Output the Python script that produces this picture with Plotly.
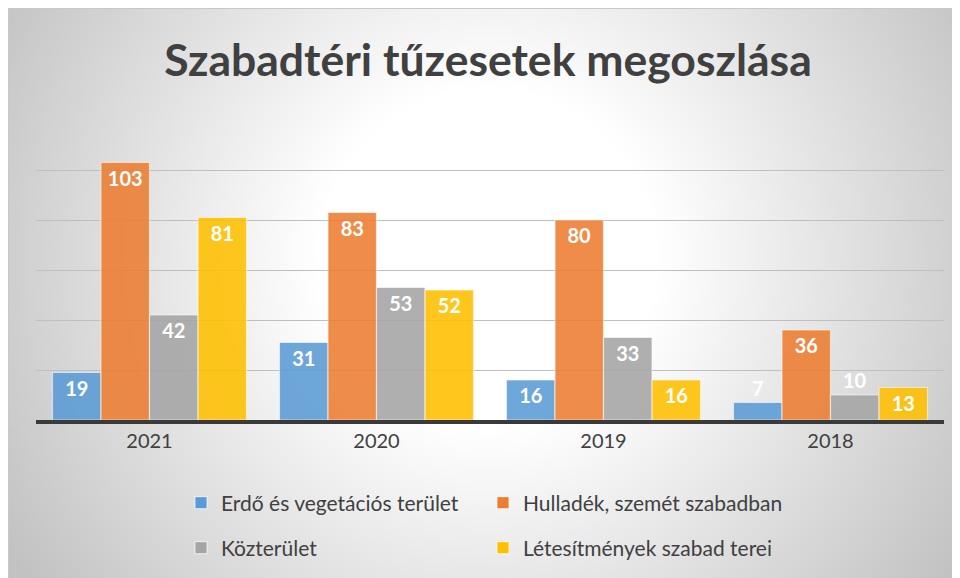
import plotly.graph_objects as go
import urllib.parse

years = ["2021", "2020", "2019", "2018"]
series_names = [
    "Erdő és vegetációs terület",
    "Hulladék, szemét szabadban",
    "Közterület",
    "Létesítmények szabad terei",
]
erdo = [19, 31, 16, 7]
hulladek = [103, 83, 80, 36]
kozterulet = [42, 53, 33, 10]
letesitmenyek = [81, 52, 16, 13]
colors = ["#5B9BD5", "#ED7D31", "#A5A5A5", "#FFC000"]
legend_ids = ["legend", "legend2", "legend3", "legend4"]

title_text = "Szabadtéri tűzesetek megoszlása"

fig = go.Figure()
for name, vals, col, lg in zip(series_names, [erdo, hulladek, kozterulet, letesitmenyek], colors, legend_ids):
    fig.add_trace(go.Bar(
        x=years, y=vals, name=name, legend=lg,
        marker=dict(color=col, opacity=0.88,
                    line=dict(color="rgba(255,255,255,0.6)", width=1.2)),
        text=[str(v) for v in vals],
        textposition="auto",
        insidetextanchor="end",
        constraintext="none",
        textangle=0,
        cliponaxis=False,
        insidetextfont=dict(family="Lato", size=20, color="white", weight="bold"),
        outsidetextfont=dict(family="Lato", size=20, color="white", weight="bold"),
        hoverinfo="skip",
    ))

svg = (
    "<svg xmlns='http://www.w3.org/2000/svg' width='960' height='578' viewBox='0 0 960 578'>"
    "<defs><radialGradient id='g' gradientUnits='userSpaceOnUse' cx='480' cy='250' r='560'>"
    "<stop offset='0' stop-color='#ffffff'/>"
    "<stop offset='0.3' stop-color='#ffffff'/>"
    "<stop offset='1' stop-color='#c2c2c2'/>"
    "</radialGradient></defs>"
    "<rect x='0' y='0' width='960' height='578' fill='url(#g)'/>"
    "<rect x='0.5' y='0.5' width='959' height='577' fill='none' stroke='#c8c8c8' stroke-width='1'/>"
    "</svg>"
)
src = "data:image/svg+xml;charset=utf-8," + urllib.parse.quote(svg)

W, H = 960, 578
L, R, T, B = 28, 24, 111, 166
pw, ph = W - L - R, H - T - B
base_y = H - B


def legend_at(px, py):
    return dict(orientation="h", x=(px - L) / pw, xanchor="left",
                y=(base_y - py) / ph, yanchor="middle",
                font=dict(size=21, color="#404040"),
                itemclick=False, bgcolor="rgba(0,0,0,0)")


fig.update_layout(
    width=W, height=H,
    margin=dict(l=L, r=R, t=T, b=B),
    paper_bgcolor="white",
    plot_bgcolor="rgba(0,0,0,0)",
    barmode="group",
    bargap=0.145,
    bargroupgap=0,
    title=dict(text=title_text, x=0.5, xanchor="center", y=1 - 52 / H, yanchor="middle",
               font=dict(family="Lato", size=44.5, color="#404040", weight="bold")),
    font=dict(family="Lato", color="#404040"),
    xaxis=dict(showline=True, linecolor="#3a3a3a", linewidth=4,
               tickfont=dict(size=20, color="#404040"), ticks="", showgrid=False),
    yaxis=dict(range=[0, 120.4], tick0=0, dtick=20, showticklabels=False, showgrid=True,
               gridcolor="#bfbfbf", gridwidth=1.4, zeroline=False),
    legend=legend_at(173, 495),
    legend2=legend_at(475, 495),
    legend3=legend_at(173, 540),
    legend4=legend_at(475, 540),
    images=[dict(source=src, xref="paper", yref="paper",
                 x=(0 - L) / pw, y=(base_y - 0) / ph,
                 sizex=W / pw, sizey=H / ph, sizing="stretch",
                 xanchor="left", yanchor="top", layer="below")],
    showlegend=True,
)

fig.write_html("out.html")
